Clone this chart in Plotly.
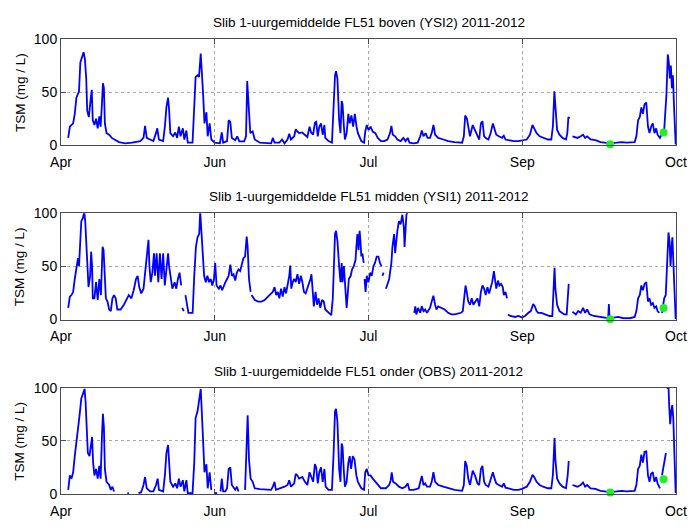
import plotly.graph_objects as go

# Hourly-mean suspended sediment (TSM, mg/L) at FL51, three sensor depths.
# x = days since 20 April; None marks gaps in the record.

boven_day = [2.11, 2.59, 3.55, 4.03, 4.5, 5.27, 5.66, 6.13, 6.61, 7.0, 7.38, 7.67, 8.15, 8.53, 9.0, 9.3,
             9.78, 10.26, 10.74, 11.21, 11.6, 11.98, 12.27, 12.56, 12.84, 13.32, 14.09, 14.86, 15.81, 16.97,
             18.88, 20.8, 23.2, 24.15, 24.6, 25.1, 26.07, 27.03, 27.8, 28.18, 28.66, 29.9, 30.4, 30.86,
             31.34, 31.63, 32.0, 32.8, 33.45, 34.0, 34.5, 35.0, 35.66, 36.1, 36.7, 37.1, 38.5, 39.0, 39.4,
             39.97, 40.4, 40.9, 41.2, 41.6, 42.0, 42.56, 42.94, 43.5, 44.0, 44.95, 46.5, 47.06, 47.45, 48.6,
             49.07, 49.55, 50.0, 51.0, 51.57, 52.2, 53.6, 54.15, 54.5, 54.9, 55.4, 56.1, 56.7, 58.2, 61.5,
             62.0, 62.5, 63.9, 64.7, 65.4, 66.3, 66.8, 67.3, 68.25, 68.7, 69.2, 69.7, 70.6, 71.4, 72.1,
             72.75, 73.2, 73.8, 74.3, 74.7, 75.15, 75.6, 76.1, 76.6, 77.1, 77.35, 78.3, 79.3, 79.75, 80.2,
             80.5, 80.9, 81.4, 81.8, 82.15, 82.4, 82.8, 83.1, 83.6, 84.1, 84.5, 85.0, 85.5, 86.0, 86.5,
             86.9, 87.9, 88.7, 89.05, 89.5, 90.0, 90.6, 91.25, 92.0, 92.7, 93.65, 94.6, 95.55, 96.3, 96.7,
             97.1, 97.8, 98.45, 99.4, 100.2, 100.85, 101.5, 102.0, 103.2, 104.4, 105.15, 105.6, 106.1,
             106.7, 107.3, 108.0, 108.5, 109.0, 109.5, 110.4, 111.9, 113.3, 115.2, 117.4, 117.9, 118.3,
             118.8, 119.25, 119.7, 120.5, 121.25, 121.9, 122.4, 122.9, 123.35, 123.84, 124.3, 125.1,
             125.75, 126.4, 126.9, 127.4, 128.15, 129.1, 129.6, 130.1, 131.0, 132.5, 133.9, 134.9, 136.3,
             137.25, 138.0, 138.5, 139.2, 140.1, 141.1, 142.5, 143.5, 143.96, 144.4, 144.7, 145.2, 145.9,
             146.8, 147.8, 148.2, 148.5, 148.85, None, 149.7, 151.15, 152.1, 152.8, 153.4, 154.0, 155.0,
             156.4, 157.9, 159.3, 160.7, 162.65, 164.1, 165.5, 167.9, 168.4, 168.9, 169.4, 169.85, 170.3,
             170.8, 171.3, 171.8, 172.25, 172.7, 173.2, 173.7, 174.2, 174.6, 175.3, 175.9, 176.55, 176.8,
             177.2, 177.6, 177.9, 178.2, 178.5, 178.8, 179.1, 179.4, 179.7, 179.9]
boven_tsm = [7.1, 17.6, 20.7, 29.7, 44.8, 50.8, 78.0, 84.0, 87.6, 81.0, 62.9, 32.7, 26.7, 38.8, 52.3, 23.7,
             19.2, 25.2, 16.1, 27.3, 17.6, 38.8, 58.4, 53.8, 20.7, 11.6, 10.1, 7.1, 5.6, 3.2,
             2.0, 2.6, 4.1, 7.1, 18.3, 7.1, 5.6, 4.1, 11.6, 16.1, 5.6, 4.1, 17.6, 36.3,
             44.8, 34.2, 11.6, 8.6, 12.2, 7.1, 17.6, 8.6, 16.1, 5.6, 14.0, 2.6, 2.6, 35.7, 64.4,
             65.9, 64.4, 86.4, 72.0, 47.8, 20.7, 31.2, 8.6, 20.7, 5.6, 2.6, 2.0, 12.2, 2.6, 4.1,
             23.7, 22.2, 7.1, 5.0, 8.6, 3.8, 3.8, 8.6, 60.5, 32.7, 11.6, 13.1, 5.6, 2.6, 2.0,
             7.1, 2.6, 2.6, 5.6, 2.0, 5.6, 11.0, 5.6, 8.6, 15.2, 13.1, 11.6, 12.2, 10.1, 8.0,
             17.6, 12.2, 10.1, 21.3, 22.2, 8.6, 17.6, 20.7, 10.1, 19.2, 7.1, 4.1, 2.6, 32.7, 65.9,
             69.7, 62.9, 23.7, 11.6, 41.8, 38.8, 17.6, 5.6, 11.6, 29.7, 20.7, 28.2, 17.6, 29.7, 17.6,
             11.6, 4.1, 2.6, 13.1, 19.2, 14.6, 17.6, 13.1, 11.6, 7.1, 4.1, 4.1, 5.6, 11.6, 18.3,
             10.1, 8.6, 5.6, 4.1, 7.1, 4.1, 7.1, 2.6, 2.0, 2.6, 8.6, 14.0, 8.6,
             11.6, 7.1, 7.1, 11.6, 19.2, 10.1, 7.1, 5.6, 4.1, 3.2, 2.6, 8.6, 28.2,
             25.2, 14.6, 8.6, 19.2, 13.1, 8.6, 5.6, 20.7, 22.8, 8.6, 7.1, 5.6,
             11.6, 20.7, 14.6, 10.1, 8.6, 7.1, 9.2, 5.6, 5.0, 4.1, 4.1, 5.0, 5.6,
             10.1, 19.2, 16.1, 11.6, 8.6, 7.1, 5.6, 5.6, 17.6, 50.8, 32.7, 14.6, 10.1,
             7.1, 5.6, 11.6, 26.7, 25.2, None, 8.6, 7.1, 8.6, 10.1, 7.1, 8.6, 5.6,
             5.0, 3.2, 2.6, 2.0, 2.6, 3.2, 2.6, 3.2, 8.6, 23.7, 26.7, 35.7, 29.7,
             38.8, 40.3, 17.6, 11.6, 17.6, 20.7, 11.6, 16.1, 10.1, 7.1, 11.6, 14.6, 26.7,
             47.8, 85.5, 78.0, 62.9, 75.0, 53.8, 65.9, 38.8, 17.6, 1.0]

midden_day = [2.11, 2.59, 3.07, 3.55, 4.03, 4.5, 4.98, 5.27, 5.66, 5.94, 6.42, 6.8, 7.09, 7.38, 7.67, 8.05,
              8.53, 8.82, 9.1, 9.3, 9.78, 10.26, 10.74, 11.21, 11.69, 12.17, 12.46, 12.84, 13.13, 13.61,
              14.09, 14.57, 15.05, 15.53, 16.0, 16.49, 17.44, 18.4, 19.36, 19.84, 20.6, 21.28, 21.95,
              22.43, 22.9, 23.48, 24.15, 24.63, 25.1, 25.6, 25.88, 26.26, 26.74, 27.22, 27.5, 27.99,
              28.47, 28.95, 29.43, 29.9, 30.38, 30.86, 31.34, 31.63, 32.1, 32.59, 33.26, 33.74, 34.22,
              34.7, 35.18, None, 35.46, 35.94, None, 36.42, 36.9, 37.29, 37.86, 38.53, 39.0, 39.49, 39.97,
              40.45, 40.74, 41.12, 41.6, 41.89, 42.37, 42.85, 43.32, 43.8, 44.28, 44.76, 45.14, 45.53,
              46.2, 46.68, 47.16, 47.64, 48.12, 48.6, 49.07, 49.55, 50.03, 50.51, 50.99, 51.47, 51.95,
              52.43, 52.9, 53.39, 53.87, 54.35, 54.63, 55.02, 55.5, None, 55.78, 56.74, 57.7, 58.66,
              59.62, 60.58, 61.53, 62.0, 62.5, 63.0, 63.45, 63.9, 64.4, 64.9, 65.4, 65.85, 66.3, 66.8,
              67.1, 67.4, 67.8, 68.25, 68.7, 69.2, 69.7, 70.2, 70.65, 71.1, 71.6, 72.1, 72.55, 73.0,
              73.3, 73.7, 74.0, 74.5, 74.95, 75.4, 75.9, 76.4, 76.9, 77.35, 78.3, 79.1, 79.55, 79.9,
              80.2, 80.5, 80.9, 81.4, 81.8, 82.15, 82.4, 82.8, 83.1, 83.6, 83.9, 84.25, 84.8, 85.2,
              85.7, 86.2, 86.45, 86.75, 87.1, 87.4, 87.7, 87.9, None, 88.2, 88.6, None, 88.85, 89.15,
              89.5, 90.0, 90.5, 90.95, 91.45, 91.9, 92.4, 92.9, 93.35, 93.8, None, 94.1, 94.4, None,
              95.1, 95.55, 96.05, 96.3, 96.7, 97.0, 97.5, 97.8, 98.15, 98.45, 98.9, 99.4, 99.9, 100.35,
              100.55, 100.8, 101.1, 101.5, 102.3, 103.0, None, 103.4, 103.7, 104.0, 104.5, 105.15,
              105.6, 106.1, 106.6, 107.1, 108.0, 108.5, 109.0, 109.5, 109.9, 110.4, 111.4, 112.3,
              113.3, 114.25, 115.2, 116.2, 117.1, 117.6, 118.0, 118.4, 118.75, 119.2, 119.7, 120.2,
              120.7, 121.4, 121.9, 122.4, 122.9, 123.35, 123.84, 124.3, 124.8, 125.3, 125.75, 126.2,
              126.7, 127.0, 127.4, 127.9, 128.3, 128.8, 129.3, 129.6, 130.1, 130.55, None, 130.8,
              131.5, 132.9, 133.9, 134.9, 135.8, 136.8, 137.5, 138.2, 138.7, 139.2, 139.65, 140.6,
              141.6, 143.0, 143.8, 144.15, 144.45, 144.7, 145.2, 145.9, 146.55, 147.3, 148.0, 148.3,
              148.6, None, 149.7, 150.7, 151.35, 152.1, 152.8, 153.4, 154.0, 154.7, 155.95, 157.4,
              158.8, 160.15, 160.35, 160.55, 161.7, 163.1, 164.6, 166.5, 167.9, 168.4, 168.9, 169.4,
              169.85, 170.3, 170.8, 171.3, 171.8, 172.25, 172.7, 173.2, 173.7, 174.2, 174.6, 175.1,
              None, 175.9, 176.55, 177.0, 177.5, 177.8, 178.1, 178.4, 178.7, 178.95, 179.2, 179.5, 179.9]
midden_tsm = [10.9, 21.5, 23.0, 26.0, 38.1, 50.2, 57.7, 50.2, 83.4, 92.5, 95.5, 101.5, 92.5, 74.3, 50.2, 30.5,
              41.1, 63.8, 50.2, 19.9, 19.9, 35.1, 18.4, 38.1, 23.0, 68.3, 65.3, 35.1, 19.9, 16.9,
              9.4, 7.9, 19.9, 23.0, 19.9, 9.4, 9.4, 13.9, 19.9, 23.0, 19.9, 27.5, 38.1,
              41.1, 30.5, 24.5, 29.0, 44.1, 62.3, 74.9, 50.2, 35.1, 44.1, 62.3, 41.1, 62.3,
              35.1, 62.3, 38.1, 62.3, 32.0, 50.2, 62.3, 50.2, 38.1, 29.0, 35.1, 29.0, 38.1,
              44.1, 32.0, None, 10.9, 7.9, None, 23.0, 13.9, 6.3, 6.3, 6.3, 41.1, 68.3, 77.4,
              80.4, 101.5, 80.4, 50.2, 41.1, 35.1, 41.1, 35.1, 38.1, 32.0, 38.1, 53.2, 32.0,
              29.0, 32.0, 27.5, 32.0, 35.1, 38.1, 41.1, 51.7, 41.1, 42.6, 36.6, 44.1, 47.1,
              45.6, 53.2, 57.7, 59.2, 78.0, 68.3, 38.1, 26.0, None, 23.0, 18.4, 16.9, 16.9,
              18.4, 21.5, 23.6, 26.0, 30.5, 23.0, 26.0, 19.9, 29.0, 21.5, 30.5, 24.5, 32.0, 41.1,
              50.8, 29.0, 35.1, 38.1, 35.1, 42.6, 33.5, 41.1, 35.1, 26.0, 24.5, 29.0, 32.0, 38.1,
              42.6, 19.9, 12.4, 26.0, 13.9, 19.9, 10.9, 18.4, 16.9, 9.4, 6.3, 4.2, 19.9, 56.2,
              80.4, 83.4, 74.3, 50.2, 35.1, 53.2, 35.1, 50.2, 32.0, 10.9, 23.0, 38.1, 41.1, 47.1,
              50.2, 56.2, 68.3, 80.4, 65.3, 83.4, 71.3, 59.2, None, 62.3, 53.2, None, 38.1, 26.0,
              41.1, 35.1, 44.1, 41.1, 50.2, 53.2, 59.2, 59.2, 53.2, 50.2, None, 41.1, 44.1, None,
              29.0, 33.5, 38.1, 44.1, 53.2, 68.3, 80.4, 62.3, 77.4, 83.4, 92.5, 89.5, 98.5, 86.4,
              68.3, 86.4, 98.5, 101.5, 104.6, 104.6, None, 6.3, 12.4, 4.8, 10.9, 6.3,
              12.4, 7.9, 9.4, 6.3, 10.9, 16.9, 22.4, 13.9, 9.4, 12.4, 10.9, 9.4,
              6.3, 4.8, 4.8, 5.4, 6.3, 7.9, 19.9, 32.0, 26.0, 16.9, 13.9, 19.9,
              13.9, 16.9, 19.9, 12.4, 26.0, 32.0, 29.0, 23.0, 30.5, 24.5, 29.0, 35.1,
              45.6, 38.1, 29.0, 36.6, 32.0, 33.5, 30.5, 23.0, 26.0, 19.9, None, 4.8,
              3.3, 2.4, 3.3, 1.8, 3.3, 6.3, 7.9, 14.5, 12.4, 7.9, 6.3, 6.3,
              4.8, 3.3, 3.3, 26.0, 48.7, 29.0, 13.9, 7.9, 6.3, 4.8, 4.8, 19.9,
              33.5, None, 7.3, 4.8, 7.9, 6.3, 10.9, 6.3, 9.4, 4.8, 3.3, 2.4,
              1.8, 1.2, 14.5, 1.2, 1.8, 2.4, 1.2, 1.2, 2.4, 7.9, 19.9, 23.0,
              32.0, 27.5, 33.5, 35.1, 16.9, 19.9, 13.9, 15.4, 10.9, 12.4, 7.9, 6.3,
              None, 6.3, 19.9, 23.0, 65.3, 81.9, 74.3, 50.2, 68.3, 77.4, 56.2, 35.1, 0.3]

onder_day = [2.11, 2.59, 3.07, 3.55, 4.03, 4.5, 4.98, 5.46, 5.94, 6.42, 6.9, 7.19, 7.57, 7.86, 8.34, 8.82,
             9.1, 9.4, 9.78, 10.26, 10.74, 11.21, 11.6, 11.98, 12.27, 12.56, 12.84, 13.32, 14.09, 14.57,
             15.05, 15.53, None, 19.4, 19.9, None, 22.7, 23.4, 23.7, 24.15, 24.6, 25.1, 26.07, 27.03,
             27.8, 28.3, 28.66, 29.9, 30.4, 30.86, 31.34, 31.63, 32.0, 32.8, 33.45, 34.0, 34.5, 35.0,
             35.66, 36.1, 36.7, 37.1, 38.5, 39.0, 39.4, 39.97, 40.45, 40.9, 41.2, 41.6, 42.0, 42.56,
             42.94, 43.5, 44.0, None, 44.76, 45.7, None, 46.7, 47.06, 47.45, 48.1, 48.6, 49.07, 49.55,
             50.0, 51.0, 51.47, 51.95, None, 53.87, 54.35, 54.63, 55.02, 55.5, 56.1, 56.7, 58.2, 61.5,
             62.0, 62.5, 62.9, 64.4, 65.4, 66.3, 66.8, 67.3, 68.25, 68.7, 69.2, 69.7, 70.65, 71.4, 72.1,
             72.75, 73.2, 73.8, 74.3, 74.7, 75.15, 75.6, 76.1, 76.6, 77.1, 77.45, 78.3, 79.3, 79.75,
             80.2, 80.5, 80.9, 81.4, 81.8, 82.15, 82.4, 82.8, 83.1, 83.6, 84.1, 84.5, 84.9, 85.4, 85.9,
             86.45, 86.9, 87.9, 88.7, 89.05, 89.5, 90.0, 90.6, 91.25, 92.0, 92.7, 93.65, 95.1, 96.05,
             96.5, 96.8, 97.2, 97.95, 98.9, 99.9, 100.8, 101.5, 101.95, 103.2, 104.7, 105.15, 105.6,
             106.1, 106.6, 107.1, 108.0, 108.5, 109.0, 109.5, 110.4, 111.9, 113.3, 115.2, 117.4, 117.9,
             118.3, 118.75, 119.2, 119.7, 120.5, 121.15, 121.9, 122.4, 122.9, 123.35, 123.84, 124.3,
             125.1, 125.75, 126.4, 126.9, 127.4, 128.15, 129.1, 129.6, 130.1, 131.0, 132.5, 133.9,
             134.9, 136.3, 137.25, 138.0, 138.5, 139.2, 140.1, 141.1, 142.5, 143.5, 143.96, 144.45,
             144.7, 145.2, 145.9, 146.8, 147.8, 148.3, 148.6, None, 149.7, 151.15, 152.1, 152.8, 153.4,
             154.0, 155.0, 156.4, 157.9, 159.3, 160.7, 162.65, 164.1, 165.5, 167.9, 168.4, 168.9,
             169.4, 169.85, 170.3, 170.8, 171.3, 171.8, 172.25, 172.7, 173.2, 173.7, 174.2, 174.6,
             175.3, None, 175.9, 176.4, 176.75, 177.05, None, 177.5, 177.8, 178.0, 178.3, 178.6, 178.9,
             179.2, 179.5, 179.8, 179.9]
onder_tsm = [3.9, 17.5, 14.5, 20.5, 35.7, 47.7, 62.9, 74.9, 90.1, 94.6, 99.1, 87.0, 65.9, 38.7, 35.7, 50.8,
             53.8, 29.6, 17.5, 23.6, 14.5, 26.6, 14.5, 53.8, 75.6, 62.9, 23.6, 11.5, 8.5, 3.9,
             6.9, 2.4, None, 0.9, 0.6, None, 0.9, 1.5, 3.9, 8.5, 16.0, 5.4, 2.4, 2.4,
             8.5, 14.5, 3.9, 2.4, 17.5, 38.7, 46.2, 34.1, 11.5, 6.9, 10.0, 5.4, 14.5, 6.9,
             13.0, 2.4, 13.0, 0.9, 0.9, 29.6, 71.9, 78.0, 90.1, 99.1, 78.0, 47.7, 20.5, 28.1,
             5.4, 20.5, 3.9, None, 0.9, 0.9, None, 2.4, 14.5, 2.4, 2.4, 5.4, 23.6, 25.1,
             8.5, 3.9, 6.9, 2.4, None, 3.9, 47.7, 74.3, 32.7, 14.5, 11.5, 5.4, 4.5, 3.9,
             6.9, 11.5, 3.9, 5.4, 6.9, 8.5, 13.0, 6.9, 10.0, 19.0, 17.5, 14.5, 16.0, 11.5, 8.5,
             20.5, 16.0, 11.5, 28.1, 25.1, 10.0, 20.5, 25.1, 11.5, 23.6, 6.9, 3.9, 3.9, 35.7,
             78.0, 80.4, 68.4, 23.6, 11.5, 47.7, 44.7, 20.5, 6.9, 11.5, 29.6, 35.7, 23.6, 35.7, 32.6,
             17.5, 11.5, 5.4, 3.9, 20.5, 23.6, 17.5, 17.5, 14.5, 11.5, 8.5, 5.4, 5.4, 8.5,
             13.0, 20.5, 11.5, 10.0, 6.9, 5.4, 6.9, 10.0, 3.9, 3.9, 5.4, 11.5, 17.0,
             8.5, 10.0, 6.9, 6.9, 11.5, 20.5, 11.5, 8.5, 6.9, 5.4, 3.9, 3.0, 8.5,
             31.1, 26.6, 14.5, 8.5, 22.1, 17.5, 10.0, 8.5, 23.6, 26.6, 11.5, 8.5,
             6.9, 13.0, 20.5, 14.5, 10.0, 8.5, 6.9, 10.0, 6.0, 5.4, 3.9, 3.9,
             4.8, 6.9, 11.5, 18.1, 16.0, 11.5, 8.5, 6.9, 5.4, 5.4, 17.5, 52.9,
             32.6, 14.5, 10.0, 6.9, 5.4, 17.5, 31.1, None, 8.5, 6.9, 8.5, 10.9, 6.9,
             8.5, 5.4, 4.8, 3.0, 2.4, 1.8, 2.4, 3.0, 2.4, 3.0, 8.5, 23.6,
             26.6, 37.2, 29.6, 39.9, 40.2, 17.5, 11.5, 19.0, 20.5, 11.5, 16.0, 10.0,
             5.4, None, 17.5, 28.1, 35.7, 38.7, None, 99.1, 102.0, 83.8, 65.9, 78.0, 83.8,
             71.9, 47.7, 17.5, 0.9]

# Two reference samples (green dots) per sensor
sample_day = [160.74, 176.36]
boven_sample = [1.1, 12.2]
midden_sample = [0.3, 10.9]
onder_sample = [1.5, 14.0]

titles = ["Slib 1-uurgemiddelde FL51 boven (YSI2) 2011-2012",
          "Slib 1-uurgemiddelde FL51 midden (YSI1) 2011-2012",
          "Slib 1-uurgemiddelde FL51 onder (OBS) 2011-2012"]
tick_days = [0, 45, 90, 135, 180]
tick_names = ["Apr", "Jun", "Jul", "Sep", "Oct"]
y_ticks = [0, 50, 100]

FONT = "Liberation Sans, Arial, Helvetica, sans-serif"
LINE_BLUE = "#0000ff"
DOT_GREEN = "#22ee22"
FRAME = "#4a4a58"

domains = [(0.766, 1.0), (0.3835, 0.6172), (0.0, 0.233)]
series = [(boven_day, boven_tsm, boven_sample),
          (midden_day, midden_tsm, midden_sample),
          (onder_day, onder_tsm, onder_sample)]

fig = go.Figure()
layout = dict(
    width=699, height=531,
    margin=dict(l=61, r=12, t=39, b=20),
    paper_bgcolor="white", plot_bgcolor="white",
    showlegend=False,
    font=dict(family=FONT, size=14, color="black"),
)
annotations = []

for i, ((days, tsm, samples), (d0, d1)) in enumerate(zip(series, domains), start=1):
    xa = "x" if i == 1 else f"x{i}"
    ya = "y" if i == 1 else f"y{i}"
    fig.add_trace(go.Scatter(x=days, y=tsm, mode="lines", xaxis=xa, yaxis=ya,
                             line=dict(color=LINE_BLUE, width=1.8), connectgaps=False,
                             hoverinfo="skip"))
    fig.add_trace(go.Scatter(x=sample_day, y=samples, mode="markers", xaxis=xa, yaxis=ya,
                             marker=dict(color=DOT_GREEN, size=8, line=dict(width=0)),
                             cliponaxis=False, hoverinfo="skip"))
    axis_common = dict(showline=True, linecolor=FRAME, linewidth=1, mirror="ticks",
                       ticks="inside", ticklen=5, tickcolor=FRAME,
                       showgrid=True, gridcolor="#ababab", griddash="dot", gridwidth=1,
                       zeroline=False, tickfont=dict(family=FONT, size=14, color="black"))
    layout["xaxis" if i == 1 else f"xaxis{i}"] = dict(
        axis_common, range=[0, 180], tickvals=tick_days, ticktext=tick_names,
        ticklabelstandoff=4, domain=[0, 1], anchor=ya)
    layout["yaxis" if i == 1 else f"yaxis{i}"] = dict(
        axis_common, range=[0, 100], tickvals=y_ticks, domain=[d0, d1], anchor=xa)
    annotations.append(dict(text=titles[i - 1], xref="paper", yref="paper", x=0.5, y=d1,
                            xanchor="center", yanchor="bottom", yshift=7, showarrow=False,
                            font=dict(family=FONT, size=13.5, color="black")))
    annotations.append(dict(text="TSM (mg / L)", xref="paper", yref="paper", x=-0.067,
                            y=(d0 + d1) / 2, xanchor="center", yanchor="middle",
                            textangle=-90, showarrow=False,
                            font=dict(family=FONT, size=13.5, color="black")))

layout["annotations"] = annotations
fig.update_layout(**layout)
fig.write_html("out.html")
